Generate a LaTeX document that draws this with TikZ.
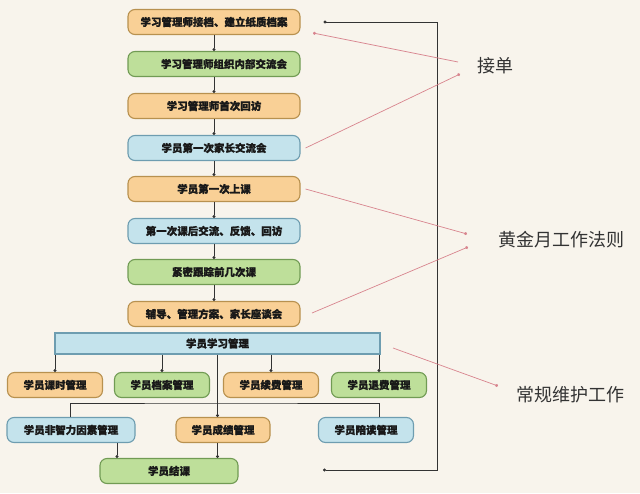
\documentclass[tikz,border=0pt]{standalone}
\usepackage{fontspec}
\newfontfamily\cjk{Noto Sans CJK SC}
\newfontfamily\cjkb{Noto Sans CJK SC}[BoldFeatures={FakeBold=1.2}]
\usetikzlibrary{positioning, shapes, arrows.meta}
\definecolor{bgc}{HTML}{F8F4EC}
\definecolor{ofill}{HTML}{F9D096}
\definecolor{oline}{HTML}{B8914F}
\definecolor{gfill}{HTML}{BEDF9A}
\definecolor{gline}{HTML}{719B54}
\definecolor{bfill}{HTML}{C4E3EC}
\definecolor{bline}{HTML}{6E9DB0}
\definecolor{lk}{HTML}{333333}
\definecolor{pkc}{HTML}{D8848E}
\tikzset{
  box/.style={draw, rounded corners=7pt, line width=1.1pt, minimum height=25pt,
    inner sep=0pt, text=black!90, font=\cjkb\bfseries\fontsize{10.5}{12}\selectfont},
  obox/.style={box, fill=ofill, draw=oline},
  gbox/.style={box, fill=gfill, draw=gline},
  bbox/.style={box, fill=bfill, draw=bline},
  dn/.style={draw=lk, line width=0.6pt, -{Circle[length=3pt]}},
  lk/.style={draw=lk, line width=0.6pt},
  pk/.style={draw=pkc, line width=0.7pt, -{Circle[length=3pt]}},
  tag/.style={font=\cjk\fontsize{18}{20}\selectfont, text=black!80}}

\begin{document}
\begin{tikzpicture}[x=1pt,y=-1pt]
  \fill[bgc] (0,0) rectangle (640,493);
  % main chain
  \node[obox, minimum width=172pt] (n1) at (214,22) {学习管理师接档、建立纸质档案};
  \node[gbox, minimum width=172pt] (n2) at (214,64) {\hspace*{20pt}学习管理师组织内部交流会};
  \node[obox, minimum width=172pt] (n3) at (214,106) {学习管理师首次回访};
  \node[bbox, minimum width=172pt] (n4) at (214,148) {学员第一次家长交流会};
  \node[obox, minimum width=172pt] (n5) at (214,189) {学员第一次上课};
  \node[bbox, minimum width=172pt] (n6) at (214,231) {第一次课后交流、反馈、回访};
  \node[gbox, minimum width=172pt] (n7) at (214,272) {紧密跟踪前几次课};
  \node[obox, minimum width=172pt] (n8) at (214,314) {辅导、管理方案、家长座谈会};
  \foreach \a/\b in {n1/n2, n2/n3, n3/n4, n4/n5, n5/n6, n6/n7, n7/n8}
    \draw[dn] (\a) -- (\b);
  % management
  \node[bbox, rounded corners=0pt, minimum width=325pt, minimum height=21pt] (bar) at (217.5,343.5) {学员学习管理};
  \node[obox, minimum width=95pt] (r1) at (55,385) {学员课时管理};
  \node[gbox, minimum width=95pt] (r2) at (162,385) {学员档案管理};
  \node[obox, minimum width=95pt] (r3) at (271,385) {学员续费管理};
  \node[gbox, minimum width=95pt] (r4) at (379,385) {学员退费管理};
  \foreach \r in {r1, r2, r3, r4}
    \draw[dn] (bar.south -| \r) -- (\r);
  \node[bbox, minimum width=128pt] (s1) at (71,430) {学员非智力因素管理};
  \node[obox, minimum width=94pt] (s2) at (223,430) {学员成绩管理};
  \node[bbox, minimum width=95pt] (s3) at (366,430) {学员陪读管理};
  \node[gbox, minimum width=138pt] (fin) at (169,471) {学员结课};
  \coordinate (hb) at (217.5,403);
  \coordinate (s1o) at ([xshift=46pt]s1.south);
  \draw[dn] (bar.south) -- (bar.south |- s2.north);
  \draw[lk] ([xshift=-1pt]s1.north) |- (hb) -| ([xshift=13pt]s3.north);
  \draw[dn] (s1o) -- (fin.north -| s1o);
  \draw[dn] (s2.south -| bar.south) -- (fin.north -| bar.south);
  % back to the start
  \coordinate (fb) at (323,470);
  \draw[lk, {Circle[length=3pt]}-{Circle[length=3pt]}] (fb) -| (437,22) -- ([xshift=23pt]n1.east);
  % labels
  \node[tag] (t1) at (495,66) {接单};
  \node[tag] (t2) at (561,240) {黄金月工作法则};
  \node[tag] (t3) at (570,395) {常规维护工作};
  \coordinate (a1) at (458,62);
  \coordinate (b1) at (313,33);
  \coordinate (a2) at (460,74);
  \coordinate (a3) at (467,234);
  \coordinate (a4) at (468,247);
  \coordinate (b4) at (312,313);
  \coordinate (a5) at (498,386);
  \coordinate (b5) at (393,348);
  \draw[pk] (a1) -- (b1);
  \draw[pk] ([xshift=5pt]n4.east) -- (a2);
  \draw[pk] ([xshift=5pt]n5.east) -- (a3);
  \draw[pk] (b4) -- (a4);
  \draw[pk] (b5) -- (a5);
\end{tikzpicture}
\end{document}
